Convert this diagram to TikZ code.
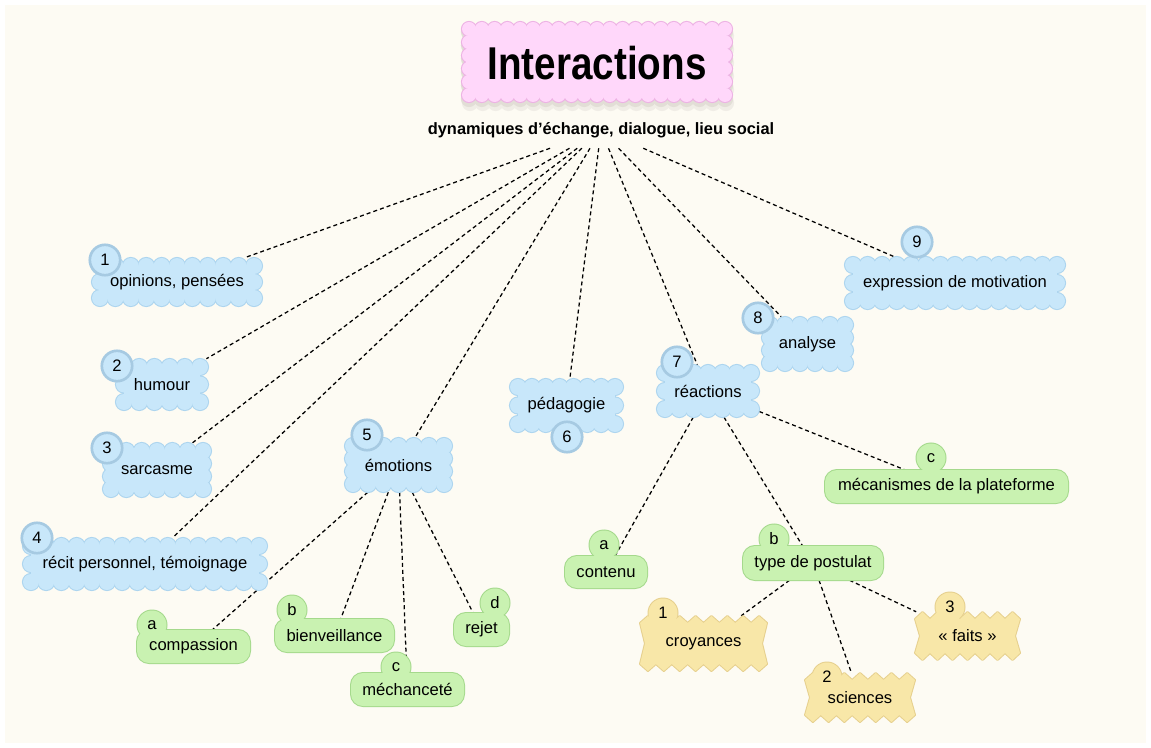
\documentclass[tikz,border=0pt]{standalone}
\usepackage{fontspec}
\usepackage{graphicx}
\setmainfont{Liberation Sans}
\definecolor{cream}{HTML}{FDFBF3}
\definecolor{bfill}{HTML}{C8E7FA}
\definecolor{bborder}{HTML}{ADD5EF}
\definecolor{bring}{HTML}{A6CAE2}
\definecolor{gfill}{HTML}{C9F2B1}
\definecolor{gborder}{HTML}{A5D98C}
\definecolor{yfill}{HTML}{F8E7A8}
\definecolor{yborder}{HTML}{E6D08E}
\definecolor{pfill}{HTML}{FFD7FA}
\definecolor{pborder}{HTML}{EDB3E4}
\definecolor{shadowa}{HTML}{F0EDE6}
\definecolor{shadowb}{HTML}{E2DED6}
\pgfdeclarelayer{bg}
\pgfdeclarelayer{lines}
\pgfsetlayers{bg,lines,main}
\newcommand\scallopPath[1]{%
  \path[#1] (\ax,\ay) rectangle (\bx,\by);
  \foreach \i in {0,...,\nh}{\path[#1] (\ax+\i*\sh,\ay) circle[radius=\rr] (\ax+\i*\sh,\by) circle[radius=\rr];}
  \ifnum\nv>1
    \foreach \j in {1,...,\nvm}{\path[#1] (\ax,\ay+\j*\sv) circle[radius=\rr] (\bx,\ay+\j*\sv) circle[radius=\rr];}
  \fi
}
\newcommand\scallops[7]{%
  \pgfmathsetmacro\ax{#1+#5}\pgfmathsetmacro\bx{#3-#5}%
  \pgfmathsetmacro\ay{#2+#5}\pgfmathsetmacro\by{#4-#5}%
  \pgfmathtruncatemacro\nh{max(1,round((\bx-\ax)/(1.85*#5)))}%
  \pgfmathtruncatemacro\nv{max(1,round((\by-\ay)/(1.85*#5)))}%
  \pgfmathtruncatemacro\nvm{\nv-1}%
  \pgfmathsetmacro\sh{(\bx-\ax)/\nh}%
  \pgfmathsetmacro\sv{(\by-\ay)/\nv}%
  \def\rr{#5}%
  \scallopPath{draw=#7,line width=1.6pt,fill=#7}%
  \scallopPath{fill=#6}%
}
\newcommand\bodynode[5]{% name x1 y1 x2 y2 (invisible box) -- text given after
  \pgfmathsetmacro\cx{(#2+#4)/2}\pgfmathsetmacro\cy{(#3+#5)/2}%
  \pgfmathsetmacro\ww{(#4-#2)*0.75}\pgfmathsetmacro\hh{(#5-#3)*0.75}%
  \node[body, minimum width=\ww pt, minimum height=\hh pt] (#1) at (\cx,\cy)
}
\newcommand\bluenode[9]{%
  \scallops{#2}{#3}{#4}{#5}{8}{bfill}{bborder}%
  \path[draw=bring,line width=2pt,fill=bfill] (#7,#8) circle[radius=15.2];
  \bodynode{#1}{#2}{#3}{#4}{#5} {#6};
  \node[body] (#1b) at (#7,#8) {#9};
}
\newcommand\greennode[9]{%
  \path[draw=gborder,line width=1.5pt,fill=gfill,rounded corners=9pt] (#2,#3) rectangle (#4,#5);
  \path[draw=gborder,line width=1.5pt,fill=gfill] (#7,#8) circle[radius=14.5];
  \path[fill=gfill,rounded corners=9pt] (#2,#3) rectangle (#4,#5);
  \path[fill=gfill] (#7,#8) circle[radius=14.5];
  \bodynode{#1}{#2}{#3}{#4}{#5} {#6};
  \node[body] (#1b) at (#7,#8) {#9};
}
\newcommand\zigpath[5]{%
  \pgfmathtruncatemacro\zn{round((#3-#1)/15)}%
  \pgfmathsetmacro\zs{(#3-#1)/\zn}%
  \pgfmathsetmacro\zm{(#2+#4)/2}%
  \path[#5] (#1,{#2+7}) foreach \i in {1,...,\zn}{ -- ({#1+(\i-0.5)*\zs},#2) -- ({#1+\i*\zs},{#2+7}) }
    -- ({#3-5},\zm) -- (#3,{#4-7})
    foreach \i in {\zn,...,1}{ -- ({#1+(\i-0.5)*\zs},#4) -- ({#1+(\i-1)*\zs},{#4-7}) }
    -- ({#1+5},\zm) -- cycle;
}
\newcommand\yellownode[9]{%
  \zigpath{#2}{#3}{#4}{#5}{draw=yborder,line width=1.5pt,line join=round,fill=yfill}%
  \path[draw=yborder,line width=1.5pt,fill=yfill] (#7,#8) circle[radius=14.5];
  \zigpath{#2}{#3}{#4}{#5}{fill=yfill}%
  \path[fill=yfill] (#7,#8) circle[radius=14.5];
  \bodynode{#1}{#2}{#3}{#4}{#5} {#6};
  \node[body] (#1b) at (#7,#8) {#9};
}
\begin{document}
\begin{tikzpicture}[x=0.75pt,y=-0.75pt,
  body/.style={rectangle,inner sep=0pt,font=\fontsize{12.45pt}{15pt}\selectfont},
  conn/.style={draw=black,line width=0.95pt,dash pattern=on 3pt off 2.3pt}]
\useasboundingbox (0,0) rectangle (1151,748);
\begin{pgfonlayer}{bg}
  \fill[white] (0,0) rectangle (1151,748);
  \fill[cream] (5,5) rectangle (1146,743);
\end{pgfonlayer}
% title
\scallops{463}{29}{733}{110}{7}{shadowa}{shadowa}
\scallops{462}{25}{732}{106}{7}{shadowb}{shadowb}
\scallops{462}{22}{732}{102}{7}{pfill}{pborder}
\node[inner sep=0pt,font=\bfseries\fontsize{34.5pt}{36pt}\selectfont] (title) at (597,63) {\scalebox{0.84}[1]{Interactions}};
\node[inner sep=0pt,minimum height=27pt,font=\bfseries\fontsize{12.3pt}{14pt}\selectfont] (sub) at (601,130) {dynamiques d’échange, dialogue, lieu social};
% blue nodes
\bluenode{n1}{92}{258}{262}{306}{opinions, pensées}{105}{260}{1}
\bluenode{n2}{116}{359}{208}{410}{humour}{117}{366}{2}
\bluenode{n3}{103}{443}{211}{497}{sarcasme}{107}{448}{3}
\bluenode{n4}{23}{538}{267}{590}{récit personnel, témoignage}{37}{538}{4}
\bluenode{n5}{345}{438}{452}{492}{émotions}{367}{435}{5}
\bluenode{n6}{510}{379}{623}{432}{pédagogie}{567}{437}{6}
\bluenode{n7}{657}{365}{759}{417}{réactions}{677}{362}{7}
\bluenode{n8}{762}{317}{853}{371}{analyse}{758}{318}{8}
\bluenode{n9}{845}{257}{1065}{309}{expression de motivation}{917}{242}{9}
% green nodes
\greennode{g5a}{137}{630}{250}{663}{compassion}{152}{625}{a}
\greennode{g5b}{275}{619}{394}{652}{bienveillance}{292}{610}{b}
\greennode{g5c}{351}{673}{464}{706}{méchanceté}{396}{667}{c}
\greennode{g5d}{454}{613}{509}{646}{rejet}{495}{603}{d}
\greennode{g7a}{565}{556}{647}{588}{contenu}{604}{545}{a}
\greennode{g7b}{743}{546}{883}{580}{type de postulat}{774}{539}{b}
\greennode{g7c}{825}{470}{1068}{503}{mécanismes de la plateforme}{931}{458}{c}
% yellow nodes
\yellownode{y1}{640}{616}{767}{671}{croyances}{663}{613}{1}
\yellownode{y2}{805}{673}{915}{722}{sciences}{827}{677}{2}
\yellownode{y3}{915}{612}{1020}{660}{«~faits~»}{950}{607}{3}
% connectors
\begin{pgfonlayer}{lines}
  \foreach \t in {n1,n2,n3,n4,n5,n6,n7,n8,n9} \draw[conn] (sub) -- (\t);
  \foreach \t in {g5a,g5b,g5c,g5d} \draw[conn] (n5) -- (\t);
  \foreach \t in {g7a,g7b,g7c} \draw[conn] (n7) -- (\t);
  \foreach \t in {y1,y2,y3} \draw[conn] (g7b) -- (\t);
\end{pgfonlayer}
\end{tikzpicture}
\end{document}
